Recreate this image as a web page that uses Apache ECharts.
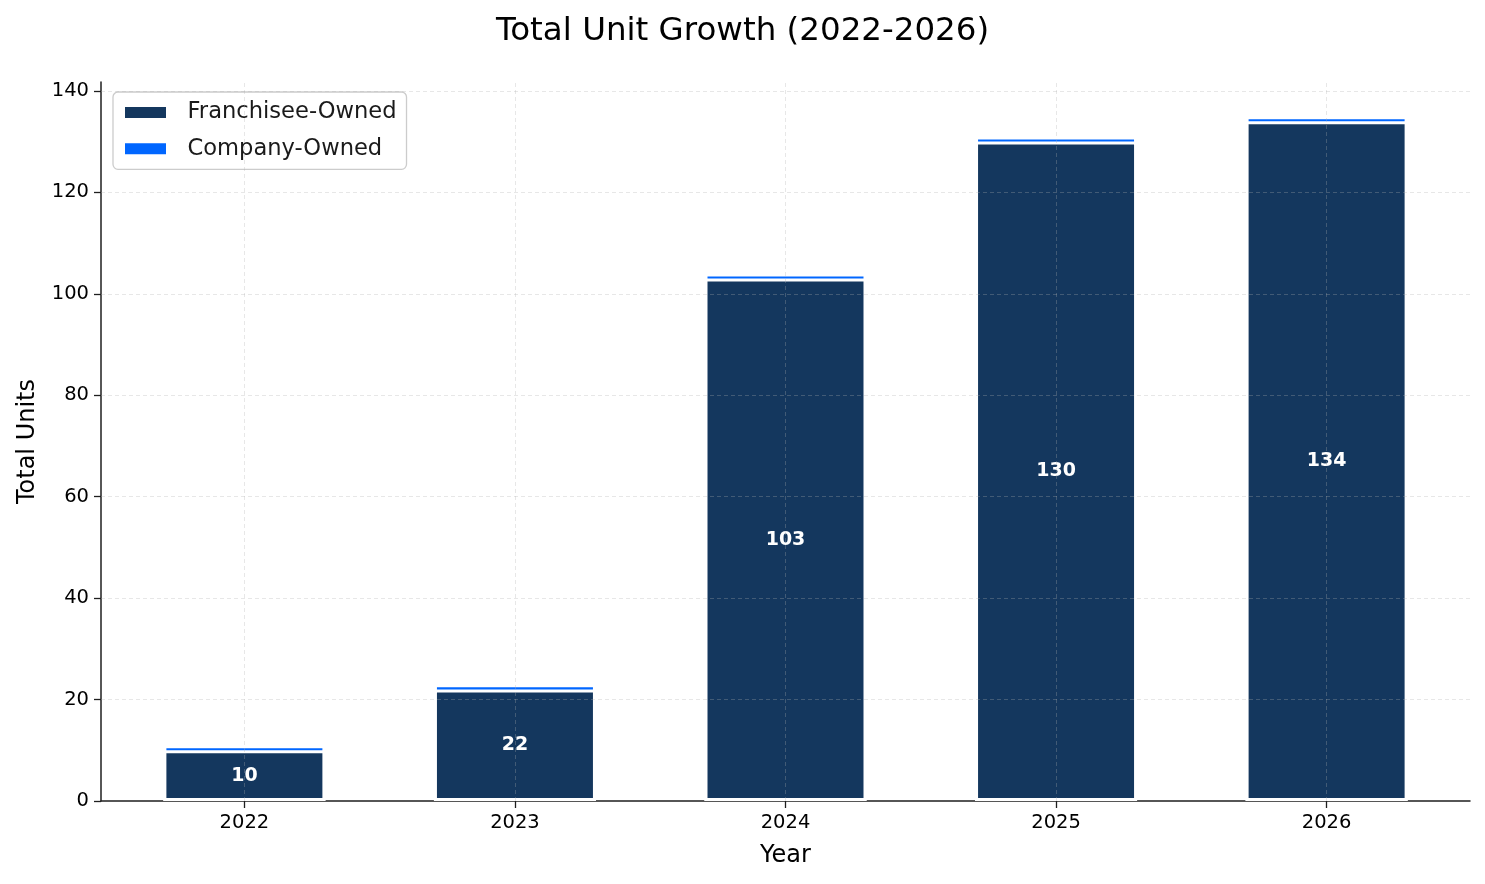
<!DOCTYPE html>
<html>
<head>
<meta charset="utf-8">
<script src="https://cdn.jsdelivr.net/npm/echarts@6/dist/echarts.min.js"></script>
<style>html,body{margin:0;padding:0;background:#fff}#c{width:1485px;height:884px}</style>
</head>
<body>
<div id="c"></div>
<script>
const years = ['2022', '2023', '2024', '2025', '2026'];
const franchiseeOwned = [10, 22, 103, 130, 134];
const companyOwned = [1, 1, 1, 1, 1];
const yTicks = [0, 20, 40, 60, 80, 100, 120, 140];

const idx = years.map((_, i) => i);
// Company-owned units sit on top of franchisee-owned units (stack drawn as overlay)
const totals = franchiseeOwned.map((v, i) => v + companyOwned[i]);
const font = '"DejaVu Sans", sans-serif';
const gridColor = 'rgba(176,176,176,0.3)';
const axisColor = '#1f1f1f';

const chart = echarts.init(document.getElementById('c'), null, {renderer: 'canvas'});
chart.setOption({
  animation: false,
  backgroundColor: '#fff',
  title: {
    text: 'Total Unit Growth (2022-2026)',
    left: 'center', top: 10,
    textStyle: {fontFamily: font, fontSize: 32.5, fontWeight: 'normal', color: '#000'}
  },
  legend: {
    orient: 'vertical', left: 113, top: 92,
    data: ['Franchisee-Owned', 'Company-Owned'],
    backgroundColor: '#fff', borderColor: '#cccccc', borderWidth: 1.3, borderRadius: 5,
    padding: [9, 10, 9, 10],
    itemWidth: 43, itemHeight: 13, itemGap: 13.3,
    icon: 'rect',
    textStyle: {fontFamily: font, fontSize: 22.6, color: '#1a1a1a', padding: [0, 0, 0, 15.5], lineHeight: 22}
  },
  grid: {left: 101, right: 15, top: 82, bottom: 83, containLabel: false},
  xAxis: {
    type: 'value', min: -0.53, max: 4.53,
    name: 'Year', nameLocation: 'middle', nameGap: 43,
    nameTextStyle: {fontFamily: font, fontSize: 24, color: '#000'},
    axisLine: {show: true, onZero: false, lineStyle: {color: axisColor, width: 1.5}},
    axisTick: {show: true, customValues: idx, length: 7, lineStyle: {color: axisColor, width: 1.3}},
    axisLabel: {customValues: idx, formatter: v => years[Math.round(v)], fontFamily: font, fontSize: 19.5, color: '#000', margin: 12},
    splitLine: {show: false}
  },
  yAxis: {
    type: 'value', min: 0, max: 141.75,
    name: 'Total Units', nameLocation: 'middle', nameGap: 61,
    nameTextStyle: {fontFamily: font, fontSize: 24, color: '#000'},
    axisLine: {show: true, onZero: false, lineStyle: {color: axisColor, width: 1.5}},
    axisTick: {show: true, customValues: yTicks, length: 7, lineStyle: {color: axisColor, width: 1.3}},
    axisLabel: {customValues: yTicks, fontFamily: font, fontSize: 19.5, color: '#000', margin: 12},
    splitLine: {show: false}
  },
  series: [
    {
      name: 'Company-Owned', type: 'bar',
      barWidth: 162, barGap: '-100%', z: 2,
      data: totals.map((v, i) => [i, v]),
      itemStyle: {color: '#0066ff', borderColor: '#fff', borderWidth: 3}
    },
    {
      name: 'Franchisee-Owned', type: 'bar',
      barWidth: 162, barGap: '-100%', z: 3,
      data: franchiseeOwned.map((v, i) => [i, v]),
      itemStyle: {color: '#14375e', borderColor: '#fff', borderWidth: 3},
      label: {
        show: true, position: 'inside',
        formatter: p => String(p.value[1]),
        color: '#fff', fontFamily: font, fontWeight: 'bold', fontSize: 19
      }
    },
    {
      name: 'grid', type: 'line', data: [], z: 10, silent: true,
      markLine: {
        silent: true, symbol: 'none', label: {show: false},
        lineStyle: {color: gridColor, type: [4, 3], width: 1},
        data: yTicks.filter(v => v > 0).map(v => ({yAxis: v})).concat(idx.map(i => ({xAxis: i})))
      }
    }
  ]
});
</script>
</body>
</html>
